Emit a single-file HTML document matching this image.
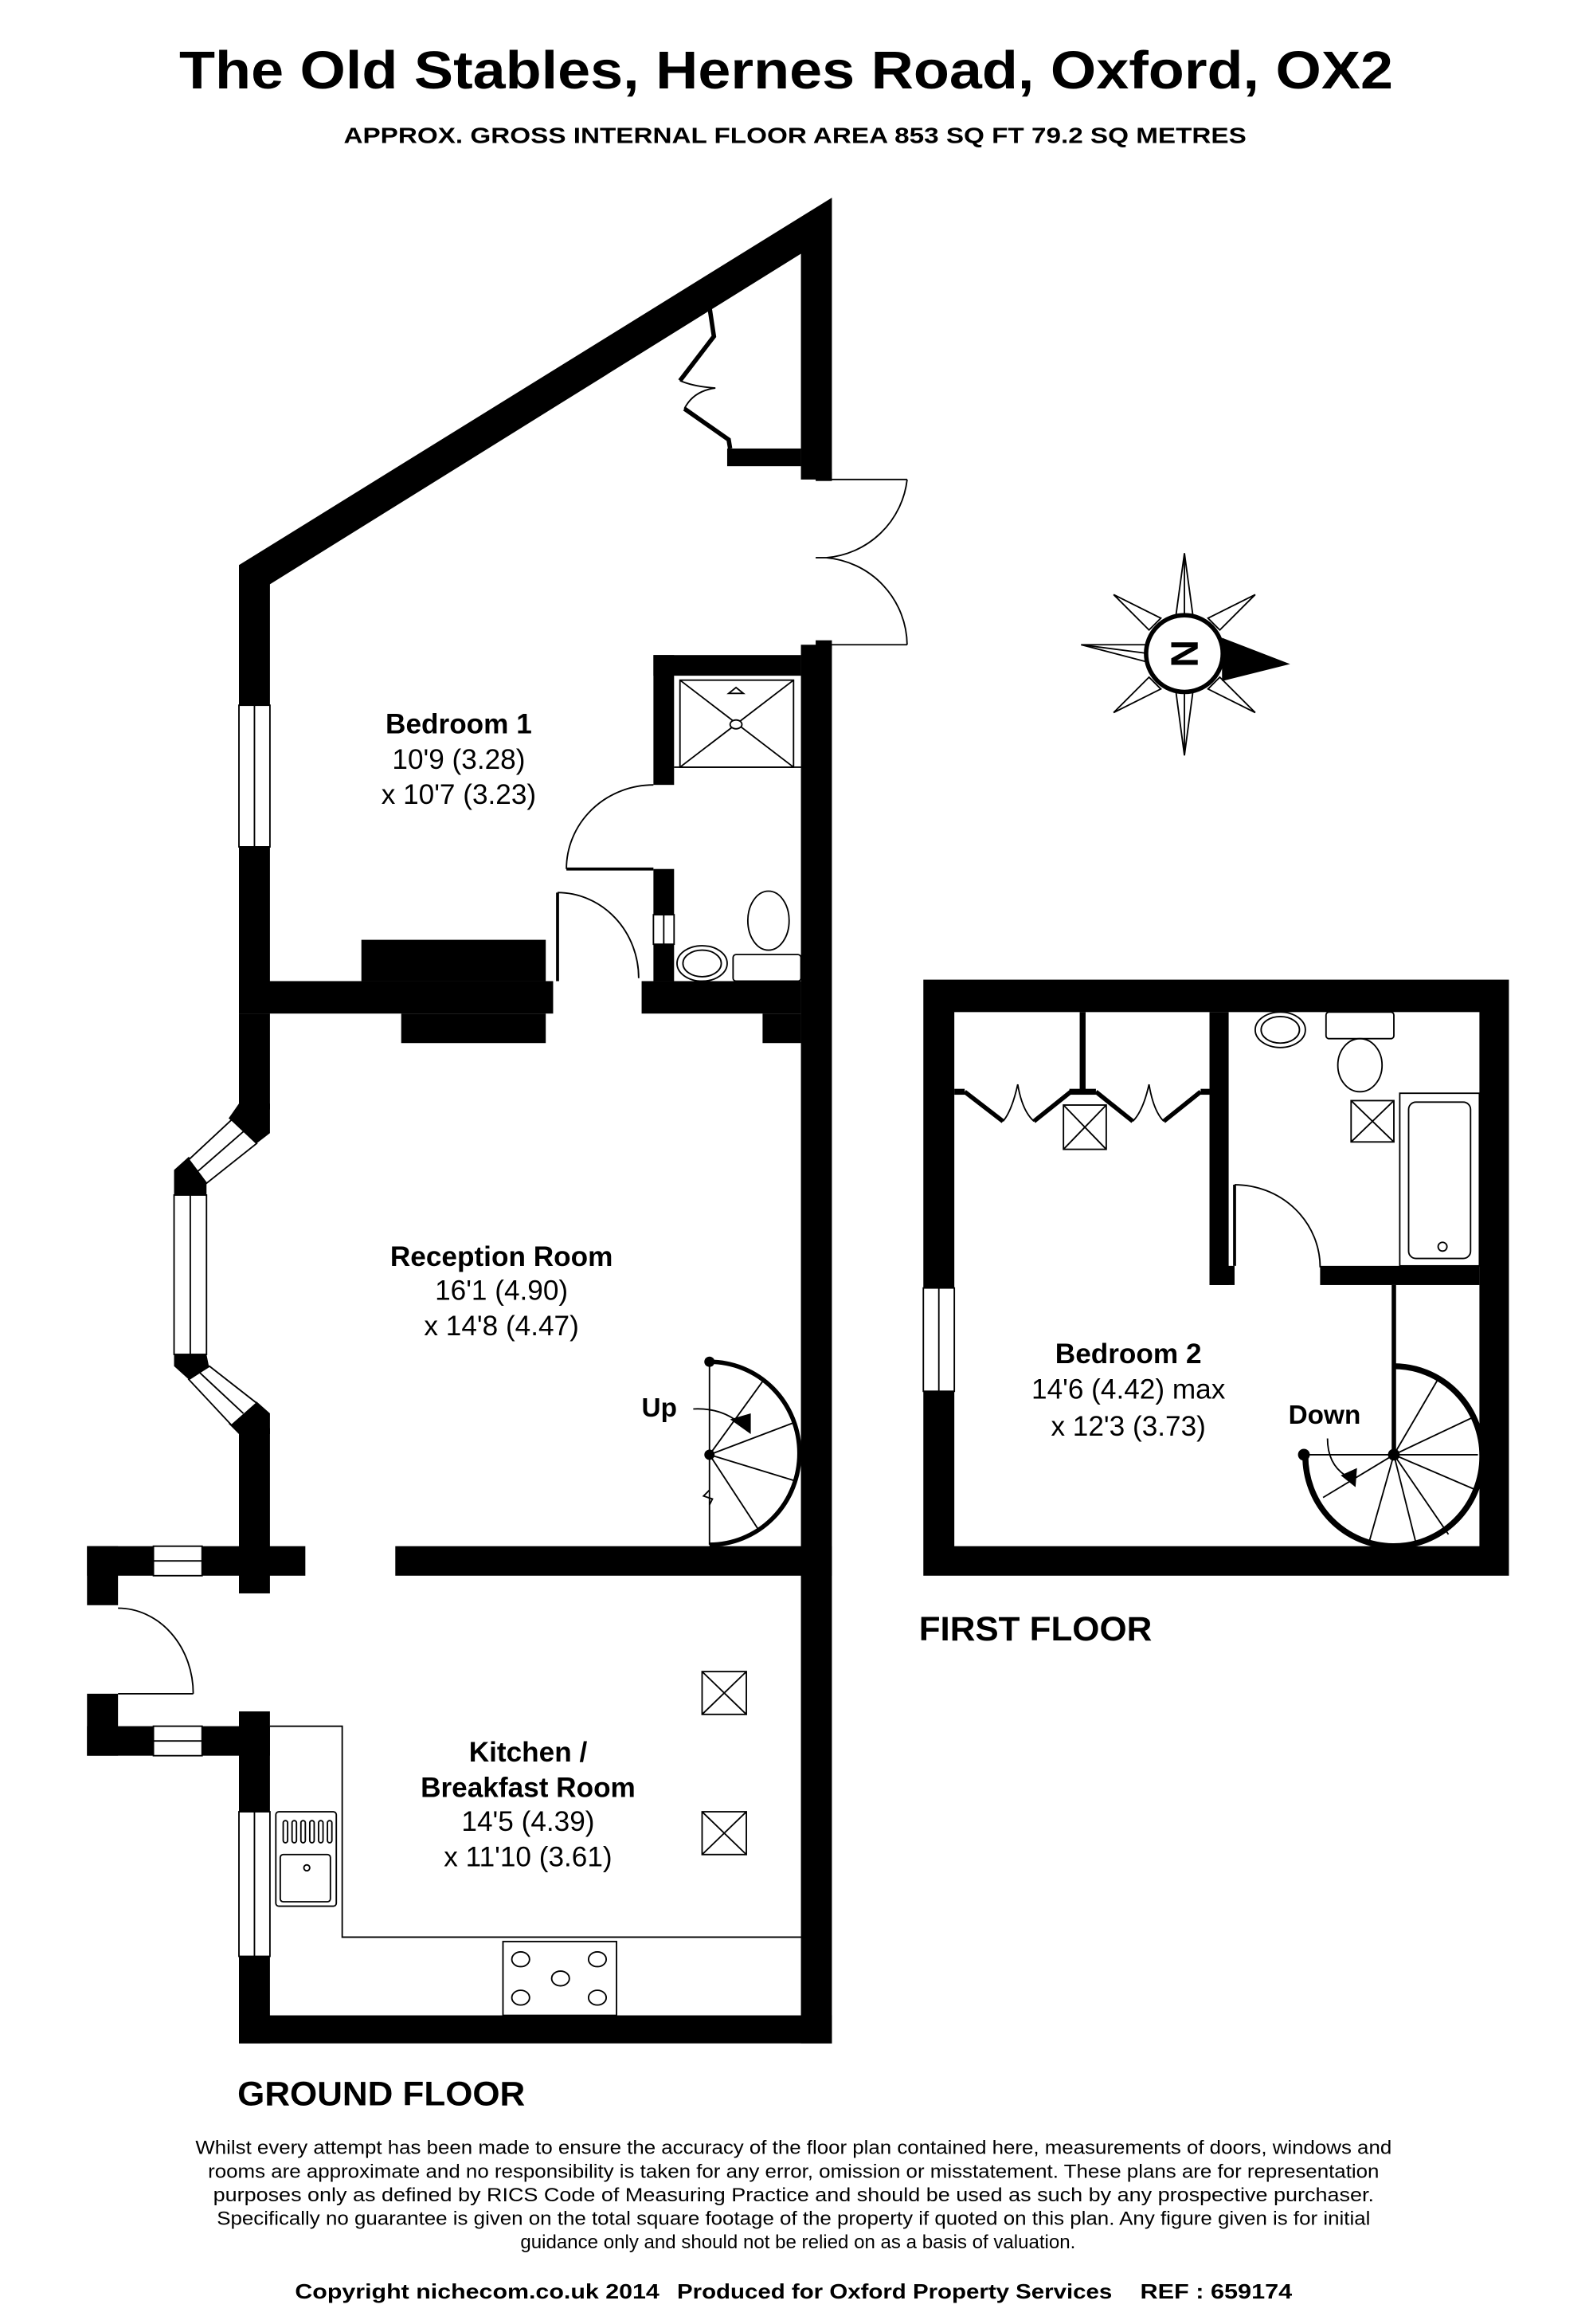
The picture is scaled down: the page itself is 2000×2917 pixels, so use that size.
<!DOCTYPE html>
<html><head><meta charset="utf-8"><style>html,body{margin:0;padding:0;background:#fff}svg{display:block}</style></head>
<body>
<svg width="2000" height="2917" viewBox="0 0 1080 1575.2" xmlns="http://www.w3.org/2000/svg" font-family="Liberation Sans, Arial, sans-serif">
<rect width="1080" height="1576" fill="#fff"/>
<text x="533" y="60" font-size="36" font-weight="bold" text-anchor="middle" textLength="823" lengthAdjust="spacingAndGlyphs">The Old Stables, Hernes Road, Oxford, OX2</text>
<text x="539" y="97" font-size="15" font-weight="bold" text-anchor="middle" textLength="612" lengthAdjust="spacingAndGlyphs">APPROX. GROSS INTERNAL FLOOR AREA 853 SQ FT 79.2 SQ METRES</text>

<g fill="#000">
<polygon points="162,383 564,134 564,325 543,325 543,172 183,396 183,478 162,478"/>
<rect x="162" y="574" width="21" height="113"/>
<rect x="493" y="304" width="50" height="12"/>
<rect x="553" y="320" width="11" height="6"/>
<rect x="543" y="437" width="21" height="948"/>
<rect x="553" y="434" width="11" height="6"/>
<rect x="443" y="444" width="100" height="14"/>
<rect x="443" y="444" width="14" height="88"/>
<rect x="443" y="589" width="14" height="31"/>
<rect x="443" y="640" width="14" height="25"/>
<rect x="162" y="665" width="213" height="22"/>
<rect x="245" y="637" width="125" height="28"/>
<rect x="272" y="687" width="98" height="20"/>
<rect x="435" y="665" width="108" height="22"/>
<rect x="517" y="687" width="26" height="20"/>
<rect x="162" y="687" width="21" height="65"/>
<rect x="162" y="968" width="21" height="112"/>
<rect x="59" y="1048" width="148" height="20"/>
<rect x="268" y="1048" width="296" height="20"/>
<rect x="59" y="1048" width="21" height="40"/>
<rect x="59" y="1148" width="21" height="42"/>
<rect x="59" y="1170" width="124" height="20"/>
<rect x="162" y="1160" width="21" height="225"/>
<rect x="162" y="1366" width="402" height="19"/>
<polygon points="162,748 183,748 183,768 174,775 155,758"/>
<polygon points="118,793 128,784 140,800 140,810 118,810"/>
<polygon points="118,918 140,918 142,928 128,935 118,926"/>
<polygon points="155,965 174,950 183,958 183,972 162,972"/>
</g>
<g fill="#fff" stroke="#000" stroke-width="1">
<rect x="162" y="478" width="21" height="96"/><line x1="172.5" y1="478" x2="172.5" y2="574"/>
<rect x="443" y="620" width="14" height="20"/><line x1="450" y1="620" x2="450" y2="640"/>
<polygon points="128,786 157,759 174,775 140,802"/>
<line x1="134" y1="794" x2="165" y2="767"/>
<rect x="118" y="810" width="22" height="108"/><line x1="129" y1="810" x2="129" y2="918"/>
<polygon points="128,935 142,926 174,951 157,966"/>
<line x1="135" y1="930" x2="165" y2="958"/>
<rect x="104" y="1048" width="33" height="20"/><line x1="104" y1="1058" x2="137" y2="1058"/>
<rect x="104" y="1170" width="33" height="20"/><line x1="104" y1="1180" x2="137" y2="1180"/>
<rect x="162" y="1228" width="21" height="98"/><line x1="172.5" y1="1228" x2="172.5" y2="1326"/>
</g>
<g fill="none" stroke="#000" stroke-width="1">
<polyline points="481,208 484,228 461,258" stroke-width="3"/>
<path d="M461,258 Q470,262 485,263 Q470,265 464,277"/>
<polyline points="464,277 494,298 495,304" stroke-width="3"/>
<line x1="554" y1="325" x2="615" y2="325"/><line x1="554" y1="437" x2="615" y2="437"/>
<path d="M615,325 A60,60 0 0 1 560,378 A60,60 0 0 1 615,437"/>
<line x1="553" y1="378" x2="560" y2="378"/>
<rect x="461" y="461" width="77" height="59"/>
<line x1="461" y1="461" x2="538" y2="520"/><line x1="538" y1="461" x2="461" y2="520"/>
<ellipse cx="499" cy="491" rx="4" ry="3" fill="#fff"/>
<path d="M494,470 L499,466 L504,470 Z"/>
<line x1="457" y1="520" x2="543" y2="520"/>
<line x1="384" y1="589" x2="443" y2="589" stroke-width="2"/>
<path d="M384,589 A59,57 0 0 1 443,532"/>
<line x1="378" y1="605" x2="378" y2="665" stroke-width="2"/>
<path d="M378,605 A55,58 0 0 1 433,663"/>
<ellipse cx="521" cy="624" rx="14" ry="20"/>
<rect x="497" y="647" width="46" height="18" rx="2"/>
<ellipse cx="476" cy="653" rx="17" ry="12"/><ellipse cx="476" cy="653" rx="13" ry="9"/>
<path d="M481,923 A61,62 0 0 1 481,1047" stroke-width="3"/>
<line x1="481" y1="923" x2="481" y2="1047"/>
<line x1="481" y1="986" x2="518" y2="935"/><line x1="481" y1="986" x2="539" y2="964"/>
<line x1="481" y1="986" x2="540" y2="1004"/><line x1="481" y1="986" x2="515" y2="1038"/>
<path d="M470,955 Q490,954 503,966"/>
<polyline points="481,1010 477,1014 483,1016 481,1020"/>
<polyline points="183,1170 232,1170 232,1313 543,1313"/>
<rect x="187" y="1228" width="41" height="64" rx="2"/>
<rect x="190" y="1257" width="34" height="32" rx="2"/>
<circle cx="208" cy="1266" r="2"/>
<rect x="192" y="1234" width="3" height="15" rx="1.5"/><rect x="198" y="1234" width="3" height="15" rx="1.5"/><rect x="204" y="1234" width="3" height="15" rx="1.5"/><rect x="210" y="1234" width="3" height="15" rx="1.5"/><rect x="216" y="1234" width="3" height="15" rx="1.5"/><rect x="222" y="1234" width="3" height="15" rx="1.5"/>
<rect x="341" y="1316" width="77" height="50"/>
<ellipse cx="353" cy="1328" rx="6" ry="5"/><ellipse cx="405" cy="1328" rx="6" ry="5"/>
<ellipse cx="353" cy="1354" rx="6" ry="5"/><ellipse cx="405" cy="1354" rx="6" ry="5"/>
<ellipse cx="380" cy="1341" rx="6" ry="5"/>
<rect x="476" y="1133" width="30" height="29"/><line x1="476" y1="1133" x2="506" y2="1162"/><line x1="506" y1="1133" x2="476" y2="1162"/>
<rect x="476" y="1228" width="30" height="29"/><line x1="476" y1="1228" x2="506" y2="1257"/><line x1="506" y1="1228" x2="476" y2="1257"/>
<line x1="80" y1="1148" x2="131" y2="1148"/>
<path d="M80,1090 A51,58 0 0 1 131,1148"/>
</g>
<g fill="#000">
<circle cx="481" cy="923" r="3.5"/><circle cx="481" cy="986" r="3.5"/>
<polygon points="495,962 509,958 509,972"/>
</g>

<rect x="626" y="664" width="397" height="404" fill="#000"/>
<rect x="647" y="686" width="356" height="362" fill="#fff"/>
<rect x="626" y="873" width="21" height="70" fill="#fff" stroke="#000" stroke-width="1"/>
<line x1="636.5" y1="873" x2="636.5" y2="943" stroke="#000"/>
<g fill="#000">
<rect x="820" y="686" width="13" height="185"/>
<rect x="820" y="858" width="17" height="13"/>
<rect x="895" y="858" width="108" height="13"/>
<rect x="732" y="686" width="4" height="54"/>
<rect x="647" y="738" width="7" height="4"/><rect x="725" y="738" width="18" height="4"/><rect x="814" y="738" width="6" height="4"/>
</g>
<g fill="none" stroke="#000" stroke-width="1">
<polyline points="654,740 680,760" stroke-width="3"/>
<polyline points="726,740 701,760" stroke-width="3"/>
<path d="M680,760 Q686,753 690,735 Q693,753 701,760"/>
<polyline points="743,740 768,760" stroke-width="3"/>
<polyline points="814,740 789,760" stroke-width="3"/>
<path d="M768,760 Q775,753 779,735 Q782,753 789,760"/>
<rect x="721" y="749" width="29" height="30"/><line x1="721" y1="749" x2="750" y2="779"/><line x1="750" y1="749" x2="721" y2="779"/>
<ellipse cx="868" cy="698" rx="17" ry="12"/><ellipse cx="868" cy="698" rx="13" ry="9"/>
<rect x="899" y="686" width="46" height="18" rx="2"/>
<ellipse cx="922" cy="722" rx="15" ry="18"/>
<rect x="916" y="746" width="29" height="28"/><line x1="916" y1="746" x2="945" y2="774"/><line x1="945" y1="746" x2="916" y2="774"/>
<rect x="949" y="741" width="54" height="117"/>
<rect x="955" y="747" width="42" height="106" rx="5"/>
<circle cx="978" cy="845" r="3"/>
<line x1="837" y1="803" x2="837" y2="858" stroke-width="2"/>
<path d="M837,803 A58,56 0 0 1 895,859"/>
<line x1="945" y1="871" x2="945" y2="986" stroke-width="3"/>
<path d="M945,926 A60,61 0 1 1 885,986" stroke-width="4"/>
<line x1="885" y1="986" x2="1002" y2="986"/>
<line x1="945" y1="986" x2="976" y2="933"/><line x1="945" y1="986" x2="1000" y2="960"/>
<line x1="945" y1="986" x2="1001" y2="1010"/><line x1="945" y1="986" x2="982" y2="1040"/>
<line x1="945" y1="986" x2="960" y2="1046"/><line x1="945" y1="986" x2="928" y2="1046"/>
<line x1="945" y1="986" x2="897" y2="1015"/>
<path d="M900,975 Q900,992 912,1000"/>
</g>
<g fill="#000"><circle cx="945" cy="986" r="4"/><circle cx="884" cy="986" r="4"/><polygon points="909,1000 920,995 919,1008"/></g>

<g transform="translate(803,443)" stroke="#000" stroke-width="1" fill="#fff">
<polygon points="0,-68 6,-24 -6,-24"/>
<polygon points="0,69 6,24 -6,24"/>
<polygon points="-70,-6 -24,-6 -24,6"/>
<polygon points="-24,-16 -48,-40 -16,-24"/>
<polygon points="24,-16 48,-40 16,-24"/>
<polygon points="-24,16 -48,40 -16,24"/>
<polygon points="24,16 48,40 16,24"/>
<line x1="0" y1="-68" x2="0" y2="-24"/><line x1="0" y1="69" x2="0" y2="24"/><line x1="-70" y1="-6" x2="-24" y2="0"/>
<circle r="26" stroke-width="3"/>
<polygon points="26,-10 70,7 26,18" fill="#000"/>
<text x="0" y="0" font-size="26" font-weight="bold" fill="#000" stroke="none" text-anchor="middle" transform="rotate(90) translate(0,9)">N</text>
</g>

<g font-size="19" text-anchor="middle" fill="#000">
<text x="311" y="497" font-weight="bold">Bedroom 1</text>
<text x="311" y="521">10'9 (3.28)</text>
<text x="311" y="545">x 10'7 (3.23)</text>
<text x="340" y="858" font-weight="bold">Reception Room</text>
<text x="340" y="881">16'1 (4.90)</text>
<text x="340" y="905">x 14'8 (4.47)</text>
<text x="358" y="1194" font-weight="bold">Kitchen /</text>
<text x="358" y="1218" font-weight="bold">Breakfast Room</text>
<text x="358" y="1241">14'5 (4.39)</text>
<text x="358" y="1265">x 11'10 (3.61)</text>
<text x="765" y="924" font-weight="bold">Bedroom 2</text>
<text x="765" y="948">14'6 (4.42) max</text>
<text x="765" y="973">x 12'3 (3.73)</text>
<text x="447" y="960" font-weight="bold" font-size="18">Up</text>
<text x="898" y="965" font-weight="bold" font-size="18">Down</text>
</g>
<text x="161" y="1427" font-size="23" font-weight="bold" textLength="195" lengthAdjust="spacingAndGlyphs">GROUND FLOOR</text>
<text x="623" y="1112" font-size="23" font-weight="bold" textLength="158" lengthAdjust="spacingAndGlyphs">FIRST FLOOR</text>
<g font-size="13" text-anchor="middle">
<text x="538" y="1460" textLength="811" lengthAdjust="spacingAndGlyphs">Whilst every attempt has been made to ensure the accuracy of the floor plan contained here, measurements of doors, windows and</text>
<text x="538" y="1476" textLength="794" lengthAdjust="spacingAndGlyphs">rooms are approximate and no responsibility is taken for any error, omission or misstatement. These plans are for representation</text>
<text x="538" y="1492" textLength="787" lengthAdjust="spacingAndGlyphs">purposes only as defined by RICS Code of Measuring Practice and should be used as such by any prospective purchaser.</text>
<text x="538" y="1508" textLength="782" lengthAdjust="spacingAndGlyphs">Specifically no guarantee is given on the total square footage of the property if quoted on this plan. Any figure given is for initial</text>
<text x="541" y="1524">guidance only and should not be relied on as a basis of valuation.</text>
</g>
<g font-size="14" font-weight="bold">
<text x="200" y="1558" textLength="247" lengthAdjust="spacingAndGlyphs">Copyright nichecom.co.uk 2014</text>
<text x="459" y="1558" textLength="295" lengthAdjust="spacingAndGlyphs">Produced for Oxford Property Services</text>
<text x="773" y="1558" textLength="103" lengthAdjust="spacingAndGlyphs">REF :  659174</text>
</g>
</svg>
</body></html>
